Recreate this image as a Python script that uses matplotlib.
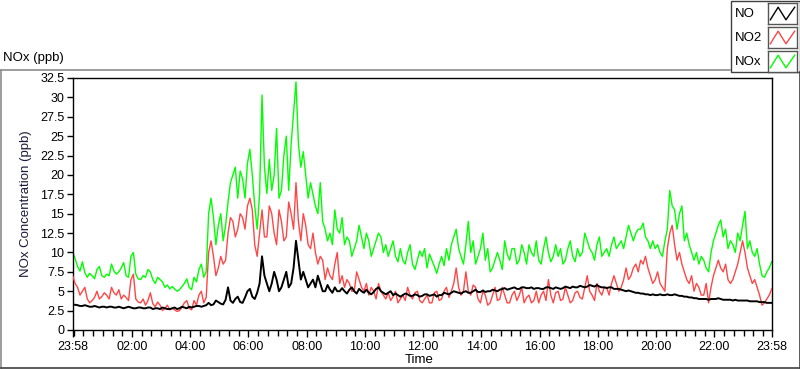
import matplotlib
matplotlib.use("Agg")
import matplotlib.pyplot as plt
import matplotlib.patches as mpatches
from matplotlib.lines import Line2D
import numpy as np

plt.rcParams["font.family"] = ["Liberation Sans", "DejaVu Sans"]

# ── Data (5-minute samples, minutes after 23:58) ─────────────────────────────
minutes = np.arange(0, 1441, 5)

nox = [
    10.0, 9.2, 8.2, 7.6, 8.8, 7.4, 6.8, 7.3, 7.0, 6.6,
    7.8, 8.2, 7.0, 6.8, 7.2, 7.0, 8.5, 7.6, 7.2, 7.5,
    8.0, 8.7, 7.0, 6.8, 9.5, 10.0, 7.2, 6.6, 6.5, 7.0,
    6.8, 7.8, 7.5, 6.5, 6.0, 6.8, 6.5, 6.2, 5.5, 5.8,
    5.3, 5.6, 5.3, 5.0, 5.2, 5.6, 6.0, 6.6, 5.5, 5.2,
    6.8, 6.2, 7.8, 8.5, 6.8, 7.5, 15.0, 17.0, 14.5, 11.0,
    13.5, 15.0, 11.5, 13.5, 16.5, 19.0, 20.0, 21.0, 17.0, 20.5,
    19.5, 17.0, 21.5, 23.3, 20.0, 16.0, 13.0, 17.5, 30.3, 21.0,
    17.6, 22.0, 18.0, 20.0, 26.0, 17.0, 18.0, 22.5, 25.0, 18.0,
    24.0, 28.0, 32.0, 24.0, 21.0, 23.0, 20.0, 17.0, 19.0, 17.5,
    16.0, 15.0, 19.0, 14.0, 13.0, 11.5, 12.5, 11.0, 15.5, 13.0,
    12.5, 14.5, 11.0, 12.0, 11.5, 9.5, 10.5, 11.5, 13.5, 12.0,
    10.5, 12.5, 11.5, 9.5, 10.5, 11.5, 12.5, 12.0, 10.0, 11.0,
    9.5, 10.5, 11.5, 9.5, 8.8, 10.5, 9.0, 8.5, 10.0, 11.0,
    8.5, 7.8, 9.0, 10.2, 9.5, 10.5, 8.0, 9.8, 9.0, 8.2,
    7.3, 8.5, 9.5, 8.3, 10.5, 9.0, 11.0, 12.0, 13.0, 10.5,
    9.5, 8.5, 11.0, 14.0, 10.0, 11.5, 8.5, 9.5, 10.5, 12.5,
    9.0, 10.5, 7.5, 8.0, 9.0, 10.0, 9.0, 7.8, 11.5, 9.8,
    9.0, 10.5, 10.5, 8.5, 9.0, 11.0, 10.0, 8.5, 11.0, 10.0,
    9.5, 11.5, 9.0, 8.5, 10.5, 12.0, 10.0, 8.8, 9.5, 11.0,
    9.5, 10.5, 8.5, 9.0, 10.5, 11.5, 9.5, 8.8, 10.5, 9.5,
    10.0, 12.5, 11.5, 10.5, 10.0, 9.0, 11.0, 12.0, 9.5, 10.0,
    10.5, 9.5, 11.0, 12.0, 10.5, 11.0, 11.5, 10.5, 12.0, 13.5,
    12.5, 11.5, 12.5, 13.0, 13.0, 13.8, 12.0, 11.5, 10.5, 11.5,
    10.5, 11.0, 10.0, 9.5, 11.5, 13.0, 18.0, 16.0, 15.5, 13.0,
    15.0, 16.0, 11.5, 12.5, 11.0, 10.0, 9.0, 10.0, 8.5, 9.5,
    9.0, 8.0, 7.5, 10.0, 11.5, 12.5, 13.5, 14.2, 12.0, 13.0,
    10.5, 11.5, 11.0, 10.0, 12.5, 11.5, 13.5, 15.3, 10.5, 11.5,
    10.0, 9.5, 10.5, 8.5, 7.0, 6.8, 7.5, 8.0,
    8.8,
]

no2 = [
    7.0, 6.0, 5.5, 4.5, 5.0, 5.5, 4.0, 3.5, 3.8, 4.2,
    5.0, 4.0, 4.3, 4.8, 4.5, 4.0, 5.5, 4.8, 4.5, 5.2,
    4.0, 4.5, 4.2, 3.8, 6.5, 7.2, 4.0, 3.6, 3.5, 4.0,
    3.2, 3.8, 4.8, 3.4, 3.0, 3.6, 3.2, 2.5, 2.8, 3.2,
    2.6, 2.8, 2.6, 2.4, 2.5, 2.9, 3.5, 3.8, 2.8, 2.6,
    3.8, 3.2, 4.5, 5.0, 3.5, 4.2, 10.0, 11.5, 9.5, 7.0,
    8.0, 9.5, 8.5, 9.0, 12.5, 14.5, 14.0, 12.0, 13.0, 15.0,
    14.5, 13.0, 16.0, 17.0, 15.5, 11.0, 9.5, 12.5, 15.5, 12.0,
    12.0, 16.0, 15.0, 12.5, 11.0, 15.5, 14.0, 11.5, 12.0, 16.5,
    15.0, 13.0, 19.0, 14.0, 11.5, 15.0, 13.5, 11.0, 10.5, 12.5,
    10.0, 8.5, 9.5, 9.0, 6.5, 8.0, 7.0, 6.5, 8.5, 10.0,
    6.0, 7.0, 5.5, 6.5, 6.0, 5.0, 5.0, 7.5, 6.5, 5.5,
    5.0, 6.0, 4.5, 5.5, 5.0, 4.0, 6.0, 5.0, 4.5, 4.0,
    4.8, 3.8, 4.3, 5.0, 3.5, 4.0, 4.5, 3.8, 5.5, 4.5,
    4.0, 4.8, 5.0, 3.8, 3.5, 4.0, 4.5, 3.5, 3.5, 4.8,
    5.0, 3.8, 4.0, 5.0, 5.5, 4.2, 5.0, 6.0, 8.0, 5.5,
    4.5, 5.0, 7.5, 5.0, 4.5, 5.8, 5.5, 4.0, 3.5, 5.0,
    4.5, 3.2, 3.5, 4.5, 5.5, 3.8, 4.0, 5.5, 4.5, 3.5,
    3.5, 4.5, 5.0, 3.8, 4.5, 5.5, 3.5, 4.2, 4.5, 3.5,
    3.8, 5.0, 3.5, 4.5, 5.0, 3.8, 6.5, 4.5, 3.5, 4.8,
    5.0, 3.8, 4.0, 5.5, 4.5, 3.5, 3.8, 4.8, 5.0, 4.2,
    4.0, 5.5, 7.0, 5.0, 4.5, 3.8, 6.0, 5.0, 4.5, 5.5,
    5.5, 4.5, 6.0, 7.0, 6.0, 5.0, 5.5, 6.5, 8.0, 6.5,
    7.0, 8.0, 8.5, 7.5, 9.0, 8.5, 9.5, 8.0, 7.0, 6.0,
    6.5, 7.5, 6.0, 5.5, 5.0, 10.5, 12.5, 13.5, 11.0, 9.0,
    10.0, 8.5, 7.5, 6.5, 6.0, 7.0, 5.0, 6.0, 5.5, 4.5,
    4.5, 6.0, 3.5, 5.5, 7.0, 8.0, 9.0, 8.0, 7.5, 8.5,
    6.5, 6.0, 6.5, 7.5, 8.5, 10.0, 11.5, 10.0, 8.0, 7.0,
    6.0, 6.5, 5.5, 4.5, 3.2, 3.5, 4.0, 4.5,
    5.3,
]

no = [
    3.3, 3.25, 3.2, 3.1, 3.1, 3.2, 3.1, 3.0, 3.0, 3.1,
    3.0, 2.9, 3.0, 3.0, 2.9, 3.0, 3.0, 2.9, 2.9, 3.0,
    2.9, 2.8, 2.9, 3.0, 2.9, 2.8, 2.8, 2.9, 2.9, 2.8,
    2.8, 2.9, 2.9, 2.7, 2.8, 2.8, 2.7, 2.9, 2.8, 2.7,
    2.7, 2.8, 2.9, 2.7, 2.8, 3.0, 2.9, 2.8, 3.0, 2.9,
    3.0, 3.1, 3.1, 3.0, 3.1, 3.2, 3.5, 3.2, 3.3, 3.8,
    3.6, 3.4, 3.3, 3.9, 5.5, 3.8, 3.5, 4.0, 4.3, 3.6,
    3.5, 4.2, 5.0, 5.3, 4.3, 4.0, 4.8, 6.0, 9.5, 7.0,
    6.0, 5.0, 6.0, 7.5, 6.5, 5.0, 5.5, 6.5, 7.5, 5.5,
    6.0, 8.0, 11.5, 9.0, 6.5, 7.5, 6.5, 5.5, 6.0, 6.5,
    5.5, 7.0, 6.0, 5.0, 5.0, 5.8, 5.2, 4.8, 5.5, 5.0,
    5.0, 5.4, 5.0, 4.7, 5.2, 5.5, 5.0, 4.7, 5.3, 5.0,
    4.8, 5.2, 4.8, 4.6, 4.9, 5.3, 5.5, 5.0, 4.8, 4.6,
    4.8, 5.0, 4.5, 4.7, 4.5, 4.3, 4.5, 4.7, 4.6, 4.4,
    4.4, 4.6, 4.5, 4.3, 4.4, 4.6, 4.6, 4.4, 4.5, 4.6,
    4.3, 4.5, 4.5, 4.8, 4.7, 4.6, 4.8, 5.0, 4.9, 4.8,
    4.7, 4.9, 5.0, 4.8, 4.8, 5.0, 5.2, 4.9, 4.9, 5.1,
    4.9, 5.0, 5.0, 5.2, 5.1, 5.0, 5.2, 5.3, 5.4, 5.2,
    5.3, 5.4, 5.5, 5.3, 5.3, 5.5, 5.5, 5.4, 5.4, 5.5,
    5.3, 5.4, 5.4, 5.3, 5.3, 5.5, 5.5, 5.4, 5.3, 5.5,
    5.4, 5.3, 5.4, 5.6, 5.5, 5.4, 5.6, 5.5, 5.5, 5.7,
    5.6, 5.5, 5.6, 5.8, 5.7, 5.6, 5.8, 5.6, 5.5, 5.5,
    5.4, 5.5, 5.5, 5.3, 5.3, 5.3, 5.2, 5.1, 5.0, 5.1,
    5.0, 4.9, 4.8, 4.8, 4.7, 4.7, 4.6, 4.6, 4.5, 4.6,
    4.5, 4.5, 4.6, 4.5, 4.5, 4.6, 4.5, 4.5, 4.6, 4.5,
    4.4, 4.4, 4.3, 4.3, 4.2, 4.2, 4.1, 4.1, 4.0, 4.0,
    4.0, 4.0, 3.9, 4.0, 4.0, 4.0, 4.1, 4.0, 3.9, 3.9,
    3.9, 3.9, 3.8, 3.9, 3.8, 3.8, 3.8, 3.8, 3.8, 3.7,
    3.7, 3.7, 3.7, 3.6, 3.6, 3.6, 3.5, 3.5,
    3.5,
]

major_pos = [0, 122, 242, 362, 482, 602, 722, 842, 962, 1082, 1202, 1322, 1440]
major_lbl = ["23:58", "02:00", "04:00", "06:00", "08:00", "10:00", "12:00",
             "14:00", "16:00", "18:00", "20:00", "22:00", "23:58"]
minor_pos = [m for m in range(2, 1440, 20) if m not in major_pos]

y_ticks = np.arange(0, 33, 2.5)
y_lbl = [f"{v:g}" for v in y_ticks]

GREEN = "#00FF00"
RED = "#FF4646"
BLACK = "#000000"
FRAME = "#8C8C8C"

W, H = 800, 369
fig = plt.figure(figsize=(W / 100, H / 100), dpi=100)
fig.patch.set_facecolor("white")


def fx(px):
    return px / W


def fy(py):
    return 1 - py / H


ax = fig.add_axes([fx(72.7), fy(330), fx(771.7) - fx(72.7), fy(78) - fy(330)])
ax.plot(minutes, nox, color=GREEN, lw=1.0, zorder=2)
ax.plot(minutes, no2, color=RED, lw=1.0, zorder=3)
ax.plot(minutes, no, color=BLACK, lw=1.4, zorder=4)

ax.set_xlim(0, 1440)
ax.set_ylim(0, 32.5)
ax.set_xticks(major_pos)
ax.set_xticklabels(major_lbl, fontsize=9)
ax.set_xticks(minor_pos, minor=True)
ax.set_yticks(y_ticks)
ax.set_yticklabels(y_lbl, fontsize=9)
ax.tick_params(axis="x", which="major", length=5, width=1, pad=3)
ax.tick_params(axis="x", which="minor", length=4, width=1)
ax.tick_params(axis="y", length=4, width=1, pad=2)
for sp in ax.spines.values():
    sp.set_color("black")
    sp.set_linewidth(1)
ax.set_ylabel("NOx Concentration (ppb)", fontsize=9.5, color="#1a1a3a")
ax.yaxis.set_label_coords((32 - 72.7) / 699, 0.5)
ax.set_xlabel("Time", fontsize=9.5)
ax.xaxis.set_label_coords((419 - 72.7) / 699, (330 - 354) / 252)

# ── Outer panel frame and title ──────────────────────────────────────────────
fig.add_artist(Line2D([fx(0.5), fx(730)], [fy(69.5), fy(69.5)], color=FRAME, lw=1.2))
fig.add_artist(Line2D([fx(0.5), fx(0.5)], [fy(69.5), fy(368)], color=FRAME, lw=1.2))
fig.add_artist(Line2D([fx(0.5), fx(799.5)], [fy(368), fy(368)], color="#404040", lw=1.2))
fig.add_artist(Line2D([fx(799.5), fx(799.5)], [fy(72), fy(368)], color="#404040", lw=1.2))
fig.text(fx(3), fy(58), "NOx (ppb)", fontsize=9.5, va="center", ha="left")

# ── Legend box ───────────────────────────────────────────────────────────────
fig.add_artist(mpatches.Rectangle((fx(730.5), fy(72)), fx(799.5) - fx(730.5), fy(0.5) - fy(72),
                                  transform=fig.transFigure, facecolor="none",
                                  edgecolor="#404040", lw=1.0, zorder=0))
for i, (name, col) in enumerate([("NO", BLACK), ("NO2", RED), ("NOx", GREEN)]):
    top = 3 + i * 24
    fig.text(fx(735), fy(top + 11), name, fontsize=9.5, va="center", ha="left")
    sw = fig.add_axes([fx(768), fy(top + 21), fx(797) - fx(768), fy(top) - fy(top + 21)])
    sw.plot([0.08, 0.35, 0.62, 0.92], [0.2, 0.8, 0.2, 0.8], color=col, lw=1)
    sw.set_xlim(0, 1)
    sw.set_ylim(0, 1)
    sw.set_xticks([])
    sw.set_yticks([])
    for s in sw.spines.values():
        s.set_color("#555555")
        s.set_linewidth(1)

fig.savefig("out.png", dpi=100, facecolor="white")
